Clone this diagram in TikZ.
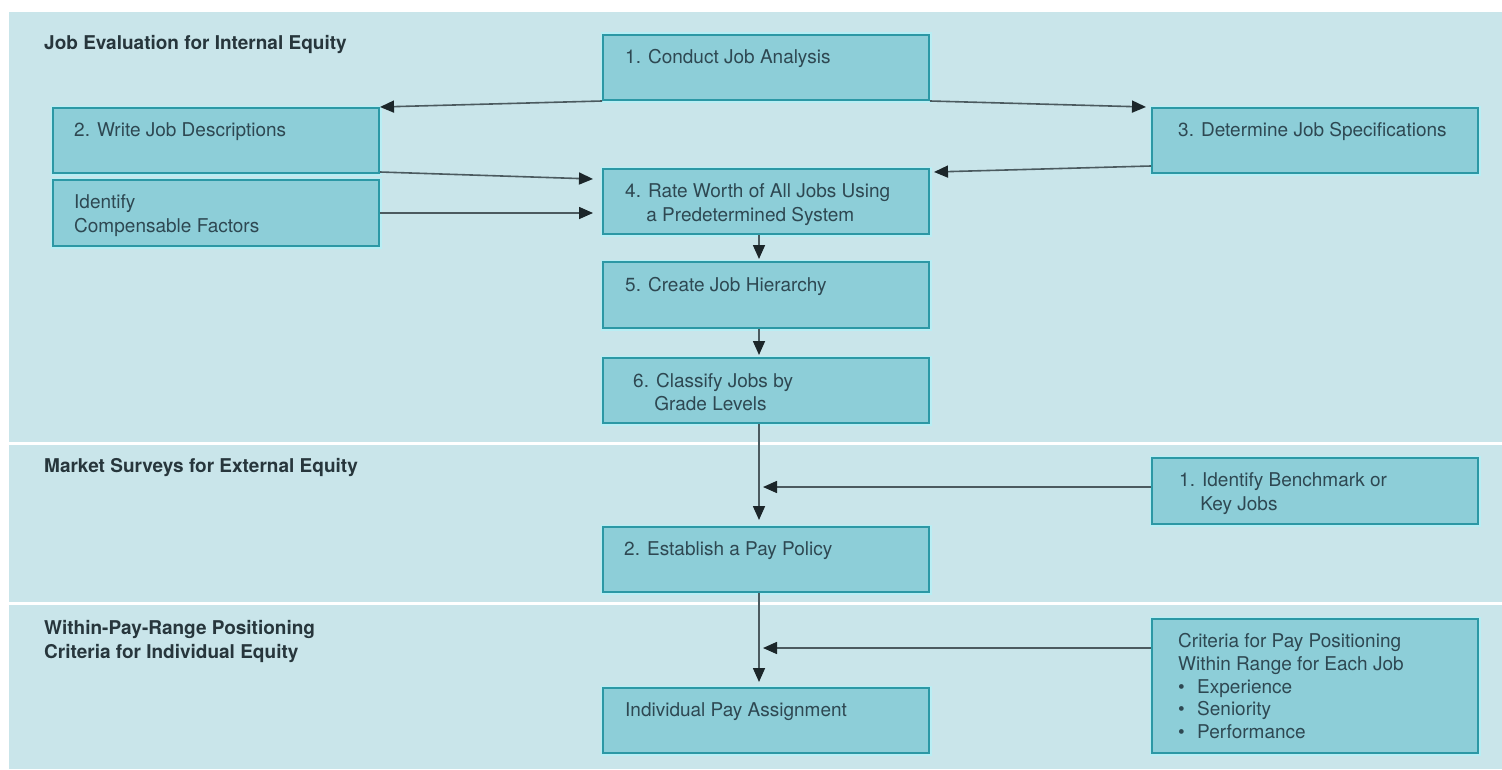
\documentclass[tikz,border=0pt]{standalone}
\usepackage{fontspec}
\setmainfont{TeX Gyre Heros}
\usetikzlibrary{arrows.meta,calc}
\definecolor{panel}{HTML}{C9E5EA}
\definecolor{boxfill}{HTML}{8DCED8}
\definecolor{boxline}{HTML}{2C98A5}
\definecolor{glow}{HTML}{B8EEF4}
\definecolor{txtc}{HTML}{2E4852}
\definecolor{headc}{HTML}{27363C}
\definecolor{connc}{HTML}{4B5A5F}
\definecolor{tipc}{HTML}{1C262A}
\begin{document}
\begin{tikzpicture}[x=1bp,y=-1bp,
 stepbox/.style={draw=boxline, line width=2bp, fill=boxfill, minimum width=326bp, minimum height=65bp, inner sep=0pt, anchor=north west, preaction={draw=glow, line width=5bp}},
 boxtext/.style={anchor=north west, inner sep=0pt, align=left, text=txtc, font=\fontsize{19bp}{23.5bp}\selectfont},
 headtext/.style={anchor=north west, inner sep=0pt, align=left, text=headc, font=\fontsize{19bp}{24bp}\selectfont\bfseries},
 conn/.style={draw=connc, line width=1.6bp, -{Triangle[length=14bp,width=12bp,color=tipc]}},
]
\useasboundingbox (0,0) rectangle (1502,769);
\fill[white] (0,0) rectangle (1502,769);
\fill[panel] (9,12) rectangle (1502,769);
\fill[white] (9,441.5) rectangle (1502,444.5);
\fill[white] (9,602) rectangle (1502,605);

% headings
\node[headtext] (h1) at (44,35) {Job Evaluation for Internal Equity};
\node[headtext] (h2) at (44,458) {Market Surveys for External Equity};
\node[headtext] (h3) at (44,620) {Within-Pay-Range Positioning\\Criteria for Individual Equity};

% boxes
\node[stepbox] (b1) at (602,34) {};
\node[stepbox] (b2) at (52,107) {};
\node[stepbox, minimum height=66bp] (id) at (52,179) {};
\node[stepbox] (b3) at (1151,107) {};
\node[stepbox] (b4) at (602,168) {};
\node[stepbox, minimum height=66bp] (b5) at (602,261) {};
\node[stepbox] (b6) at (602,357) {};
\node[stepbox, minimum height=66bp] (m1) at (1151,457) {};
\node[stepbox] (est) at (602,526) {};
\node[stepbox, minimum height=134bp] (cr) at (1151,618) {};
\node[stepbox] (ind) at (602,687) {};

% box texts
\node[boxtext] (t1) at ($(b1.north west)+(23,15.5)$) {1. Conduct Job Analysis};
\node[boxtext] (t2) at ($(b2.north west)+(22,15.5)$) {2. Write Job Descriptions};
\node[boxtext] (tid) at ($(id.north west)+(22,15.5)$) {Identify\\Compensable Factors};
\node[boxtext] (t3) at ($(b3.north west)+(27,15.5)$) {3. Determine Job Specifications};
\node[boxtext] (t4) at ($(b4.north west)+(23,15.5)$) {4. Rate Worth of All Jobs Using\\\phantom{4.\ }a Predetermined System};
\node[boxtext] (t5) at ($(b5.north west)+(23,16)$) {5. Create Job Hierarchy};
\node[boxtext] (t6) at ($(b6.north west)+(31,16)$) {6. Classify Jobs by\\\phantom{6.\ }Grade Levels};
\node[boxtext] (tm1) at ($(m1.north west)+(28,15.5)$) {1. Identify Benchmark or\\\phantom{1.\ }Key Jobs};
\node[boxtext] (test) at ($(est.north west)+(22,15.5)$) {2. Establish a Pay Policy};
\node[boxtext, font=\fontsize{19bp}{22.6bp}\selectfont] (tcr) at ($(cr.north west)+(27,15.5)$) {Criteria for Pay Positioning\\Within Range for Each Job\\\makebox[19bp][l]{\textbullet}Experience\\\makebox[19bp][l]{\textbullet}Seniority\\\makebox[19bp][l]{\textbullet}Performance};
\node[boxtext] (tind) at ($(ind.north west)+(23,15.5)$) {Individual Pay Assignment};

% connectors
\draw[conn] (b1.south west) -- (b2.north east);
\draw[conn] (b1.south east) -- ($(b3.north west)+(-5,0)$);
\draw[conn] ($(b2.south east)+(0,-2)$) -- ($(b4.north west)+(-9,11)$);
\draw[conn] (id.east) -- ($(id.east -| b4.west)+(-9,0)$);
\draw[conn] ($(b3.south west)+(0,-8)$) -- ($(b4.north east)+(4,4)$);
\draw[conn] ($(b4.south)+(-7,0)$) -- ($(b5.north)+(-7,-2)$);
\draw[conn] ($(b5.south)+(-7,0)$) -- ($(b6.north)+(-7,-2)$);
\draw[conn] ($(b6.south)+(-7,0)$) -- ($(est.north)+(-7,-6)$);
\draw[conn] ($(m1.west)+(0,-4)$) -- ($(m1.west -| b6.south)+(-3,-4)$);
\draw[conn] ($(est.south)+(-7,0)$) -- ($(ind.north)+(-7,-5)$);
\draw[conn] ($(cr.north west)+(0,30)$) -- ($(cr.north west -| b6.south)+(-3,30)$);
\end{tikzpicture}
\end{document}
